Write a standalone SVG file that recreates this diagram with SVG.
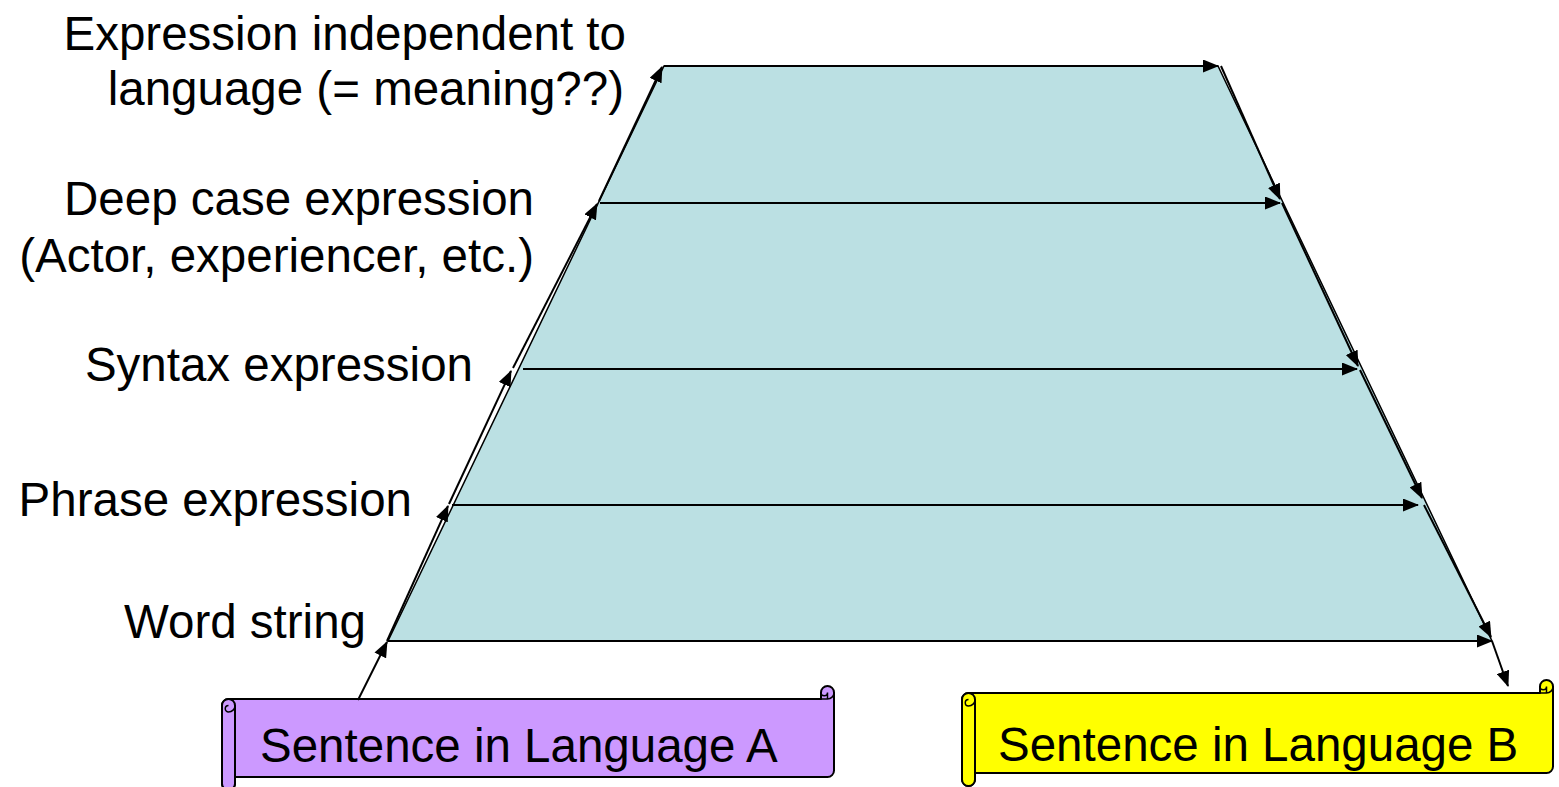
<svg xmlns="http://www.w3.org/2000/svg" width="1559" height="787" viewBox="0 0 1559 787">
<defs>
<style>
.lbl{font-family:"Liberation Sans",Arial,sans-serif;font-size:47.5px;fill:#000}
.end{text-anchor:end}
.arr{stroke:#000;stroke-width:2;fill:none;marker-end:url(#ah)}
.out{stroke:#000;stroke-width:2;stroke-linejoin:round}
.thin{stroke:#000;stroke-width:1.5;fill:none}
</style>
<marker id="ah" markerUnits="userSpaceOnUse" markerWidth="16" markerHeight="13" refX="15" refY="6.5" orient="auto">
<path d="M0,0 L16,6.5 L0,13 Z" fill="#000"/>
</marker>
</defs>
<rect width="1559" height="787" fill="#fff"/>

<g id="trapezoid">
<polygon points="664,66 1218,66 1492,641 388,641" fill="#BBE0E3" stroke="#000" stroke-width="1.5"/>
</g>

<g id="labels">
<text class="lbl end" x="626" y="50">Expression independent to</text>
<text class="lbl end" x="624" y="105">language (= meaning??)</text>
<text class="lbl end" x="534" y="215">Deep case expression</text>
<text class="lbl end" x="534" y="272">(Actor, experiencer, etc.)</text>
<text class="lbl end" x="473" y="381">Syntax expression</text>
<text class="lbl end" x="412" y="516">Phrase expression</text>
<text class="lbl end" x="366" y="638">Word string</text>
</g>

<g id="scrollA">
<path class="out" fill="#CC99FF" d="M222,705.5 A6.5,6.5 0 0 1 228.5,699 L821,699 L821,692.5 A6.5,6.5 0 0 1 834,692.5 L834,770.5 A6.5,6.5 0 0 1 827.5,777 L235,777 L235,783.5 A6.5,6.5 0 0 1 222,783.5 Z"/>
<path class="out" fill="#CC99FF" d="M222,705.5 A6.5,6.5 0 0 1 235,705.5 L235,783.5 A6.5,6.5 0 0 1 222,783.5 Z"/>
<path class="thin" fill="#A37ACC" d="M235,705.5 A6.5,6.5 0 0 1 228.5,712 A3.25,3.25 0 0 1 228.5,705.5"/>
<path class="thin" d="M821,699 L827.5,699 A6.5,6.5 0 0 0 834,692.5"/>
<path class="thin" fill="#A37ACC" d="M827.5,699 L827.5,692.5 A3.25,3.25 0 0 1 821,692.5"/>
<text class="lbl" x="260" y="762">Sentence in Language A</text>
</g>

<g id="scrollB">
<path class="out" fill="#FFFF00" d="M962,699.5 A6.5,6.5 0 0 1 968.5,693 L1540,693 L1540,686.5 A6.5,6.5 0 0 1 1553,686.5 L1553,766.5 A6.5,6.5 0 0 1 1546.5,773 L975,773 L975,779.5 A6.5,6.5 0 0 1 962,779.5 Z"/>
<path class="out" fill="#FFFF00" d="M962,699.5 A6.5,6.5 0 0 1 975,699.5 L975,779.5 A6.5,6.5 0 0 1 962,779.5 Z"/>
<path class="thin" fill="#CCCC00" d="M975,699.5 A6.5,6.5 0 0 1 968.5,706 A3.25,3.25 0 0 1 968.5,699.5"/>
<path class="thin" d="M1540,693 L1546.5,693 A6.5,6.5 0 0 0 1553,686.5"/>
<path class="thin" fill="#CCCC00" d="M1546.5,693 L1546.5,686.5 A3.25,3.25 0 0 1 1540,686.5"/>
<text class="lbl" x="998" y="761">Sentence in Language B</text>
</g>

<g id="connectors">
<line class="arr" x1="664" y1="66" x2="1218" y2="66"/>
<line class="arr" x1="600" y1="203" x2="1280" y2="203"/>
<line class="arr" x1="523" y1="369" x2="1357" y2="369"/>
<line class="arr" x1="452" y1="505" x2="1418" y2="505"/>
<line class="arr" x1="388" y1="641" x2="1492" y2="641"/>
<line class="arr" x1="358" y1="700" x2="387" y2="642"/>
<line class="arr" x1="387" y1="641" x2="448" y2="506"/>
<line class="arr" x1="449" y1="504" x2="511" y2="371"/>
<line class="arr" x1="513" y1="368" x2="597" y2="204"/>
<line class="arr" x1="599" y1="201" x2="662" y2="67"/>
<line class="arr" x1="1221" y1="66" x2="1280" y2="199"/>
<line class="arr" x1="1282" y1="203" x2="1358" y2="366"/>
<line class="arr" x1="1360" y1="370" x2="1422" y2="498"/>
<line class="arr" x1="1424" y1="505" x2="1491" y2="637"/>
<line class="arr" x1="1492" y1="641" x2="1508" y2="686"/>
</g>
</svg>
